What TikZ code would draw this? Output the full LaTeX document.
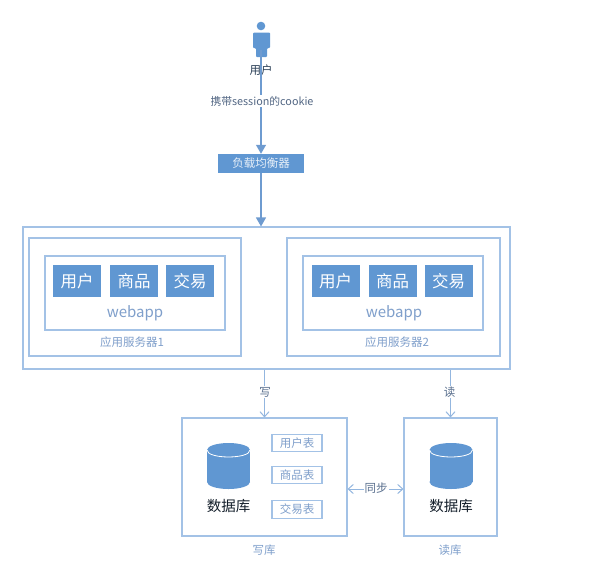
\documentclass[tikz,border=0pt]{standalone}
\usepackage{fontspec}
\setmainfont{Noto Sans CJK SC}
\usepackage{xcolor}
\usetikzlibrary{arrows.meta}
\definecolor{blockblue}{HTML}{6097D2}
\definecolor{edgeblue}{HTML}{A3C2E6}
\definecolor{linkblue}{HTML}{6E9BD0}
\definecolor{captionblue}{HTML}{7F9FCB}
\tikzset{
  block/.style={draw=none, fill=blockblue, text=white, inner sep=0pt, font=\fontsize{16.5}{16}\selectfont},
  frame/.style={draw=edgeblue, line width=1.1pt, fill=white, inner sep=0pt},
  caption/.style={text=captionblue, inner sep=1pt, font=\fontsize{11.5}{12}\selectfont},
  flow/.style={-{Triangle[length=9pt,width=10pt]}, draw=linkblue, line width=1.1pt},
  thinflow/.style={draw=edgeblue!70!linkblue, line width=1pt},
}
\begin{document}
\begin{tikzpicture}[x=1pt, y=-1pt]
  \useasboundingbox (0,0) rectangle (612,574);
  % user on top
  \fill[blockblue] (261,26) circle (4.3);
  \fill[blockblue, rounded corners=1pt] (253,32.5) -- (270,32.5) -- (270,48) -- (267,48)
        -- (267,57) -- (256,57) -- (256,48) -- (253,48) -- cycle;
  \coordinate (person) at (261,50);
  \node[text=black!60!blockblue, inner sep=1pt, font=\fontsize{11.5}{12}\selectfont] (userlabel) at (261,70) {用户};
  \node[block, minimum width=86pt, minimum height=19pt, font=\fontsize{11.5}{12}\selectfont, text=white!85!blockblue] (lb) at (261,163.5) {负载均衡器};
  \draw[flow] (person) -- (lb.north);
  \node[fill=white, text=black!35!captionblue, inner sep=1pt, font=\fontsize{10.8}{11}\selectfont] (cookie) at (262,101) {携带session的cookie};
  % servers
  \node[frame, minimum width=487pt, minimum height=142pt] (outer) at (266.5,298) {};
  \draw[flow] (lb) -- (lb |- outer.north);
  \node[frame, minimum width=212pt, minimum height=118pt] (serverA) at (135,297) {};
  \node[frame, minimum width=213pt, minimum height=118pt] (serverB) at (393.5,297) {};
  \node[frame, minimum width=180pt, minimum height=74pt] (webappA) at (135,293) {};
  \node[frame, minimum width=180pt, minimum height=74pt] (webappB) at (393,293) {};
  \foreach \name/\cx/\txt in {ua/77/用户, pa/134/商品, ta/190/交易, ub/335.5/用户, pb/392.5/商品, tb/448.5/交易}
    \node[block, minimum width=48pt, minimum height=32pt] (\name) at (\cx,281) {\txt};
  \node[text=captionblue, inner sep=1pt, font=\fontsize{15}{15}\selectfont] (appA) at (135,313) {webapp};
  \node[text=captionblue, inner sep=1pt, font=\fontsize{15}{15}\selectfont] (appB) at (394,313) {webapp};
  \node[caption] (capA) at (132,342) {应用服务器1};
  \node[caption] (capB) at (397,342) {应用服务器2};
  % databases
  \node[frame, minimum width=165pt, minimum height=118pt] (writedb) at (264.5,477) {};
  \node[frame, minimum width=93pt, minimum height=118pt] (readdb) at (450.5,477) {};
  \foreach \cx in {228.5,451} {
    \fill[blockblue] (\cx,450) ellipse [x radius=21.5, y radius=7];
    \fill[blockblue] (\cx,482) ellipse [x radius=21.5, y radius=7];
    \fill[blockblue] (\cx-21.5,450) rectangle (\cx+21.5,482);
    \draw[white, line width=0.8pt] (\cx-21.5,450) .. controls (\cx-21.5,459.3) and (\cx+21.5,459.3) .. (\cx+21.5,450);
  }
  \node[text=black!80!blockblue, inner sep=1pt, font=\fontsize{14.5}{15}\selectfont] (nameW) at (228.5,506) {数据库};
  \node[text=black!80!blockblue, inner sep=1pt, font=\fontsize{14.5}{15}\selectfont] (nameR) at (451,506) {数据库};
  \foreach \name/\cy/\txt in {tu/443/用户表, tp/475/商品表, tt/509.5/交易表}
    \node[frame, minimum width=50pt, minimum height=17.5pt, text=captionblue, font=\fontsize{11.5}{12}\selectfont] (\name) at (297,\cy) {\txt};
  \node[caption] (capW) at (264,550) {写库};
  \node[caption] (capR) at (450,550) {读库};
  % links between them
  \draw[thinflow, -{Straight Barb[length=5pt,width=9pt]}] (writedb.north |- outer.south) -- (writedb.north);
  \draw[thinflow, -{Straight Barb[length=5pt,width=9pt]}] (readdb.north |- outer.south) -- (readdb.north);
  \node[fill=white, caption, text=black!30!captionblue] (w) at (265,392) {写};
  \node[fill=white, caption, text=black!30!captionblue] (r) at (449.5,392) {读};
  \coordinate (sync) at (376,489);
  \draw[thinflow, {Straight Barb[length=5pt,width=9pt]}-{Straight Barb[length=5pt,width=9pt]}] (sync -| writedb.east) -- (sync -| readdb.west);
  \node[fill=white, caption, text=black!30!captionblue] (syncl) at (376,488) {同步};
\end{tikzpicture}
\end{document}
